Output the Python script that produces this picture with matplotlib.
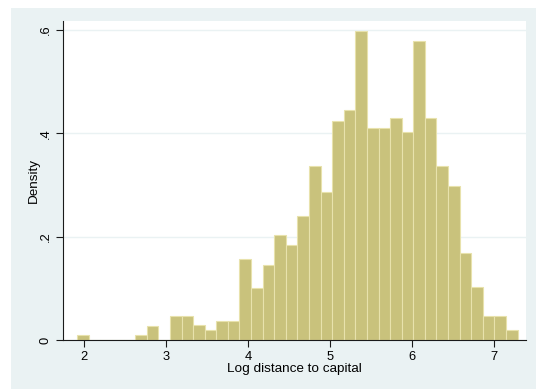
import numpy as np
import matplotlib
matplotlib.use("Agg")
import matplotlib.pyplot as plt
from matplotlib.patches import Rectangle

# histogram: 38 equal-width bins of log distance to capital
BIN_START = 1.918
BIN_WIDTH = 0.1413
density = [
    0.010, 0.000, 0.000, 0.000, 0.000, 0.010, 0.027, 0.000,
    0.047, 0.047, 0.029, 0.019, 0.037, 0.037, 0.156, 0.100,
    0.145, 0.203, 0.184, 0.240, 0.337, 0.286, 0.424, 0.446,
    0.598, 0.411, 0.411, 0.430, 0.402, 0.579, 0.430, 0.337,
    0.299, 0.168, 0.103, 0.046, 0.046, 0.019,
]
x_ticks = [2, 3, 4, 5, 6, 7]
y_ticks = [0, 0.2, 0.4, 0.6]
y_tick_labels = ["0", ".2", ".4", ".6"]

BG_OUTER = "#EAF2F3"
BAR_FILL = "#C9C27C"
BAR_EDGE = "#E8E2AC"

plt.rcParams.update({
    "font.family": ["Liberation Sans", "DejaVu Sans"],
    "font.size": 9,
})

W, H = 536, 389
fig = plt.figure(figsize=(W / 100, H / 100), dpi=100)
fig.patch.set_facecolor("white")
fig.patches.append(Rectangle((11 / W, 0), 1 - 11 / W, 1 - 8 / H,
                             transform=fig.transFigure, facecolor=BG_OUTER,
                             edgecolor="none", zorder=-5))

ax = fig.add_axes([63 / W, (H - 340) / H, (526 - 63) / W, (340 - 21) / H])
ax.set_zorder(2)
ax.set_facecolor("white")

lefts = [BIN_START + i * BIN_WIDTH for i in range(len(density))]
ax.bar(lefts, density, width=BIN_WIDTH, align="edge",
       color=BAR_FILL, edgecolor=BAR_EDGE, linewidth=0.8, zorder=2)

ax.set_xlim(1.744, 7.39)
ax.set_ylim(0, 0.6174)
ax.set_xticks(x_ticks)
ax.set_yticks(y_ticks)
ax.set_yticklabels(y_tick_labels, rotation=90, va="center")

ax.grid(axis="y", color=BG_OUTER, linewidth=1.0, zorder=0)
ax.set_axisbelow(True)

for s in ["top", "right"]:
    ax.spines[s].set_visible(False)
for s in ["left", "bottom"]:
    ax.spines[s].set_color("#1a1a1a")
    ax.spines[s].set_linewidth(0.8)

ax.tick_params(axis="both", direction="out", length=5, width=0.8,
               color="#1a1a1a", labelsize=9.3, pad=3)

ax.set_xlabel("Log distance to capital", fontsize=9.7, labelpad=0)
ax.set_ylabel("Density", fontsize=9.7, labelpad=0)

fig.savefig("out.png", dpi=100, facecolor="white")
